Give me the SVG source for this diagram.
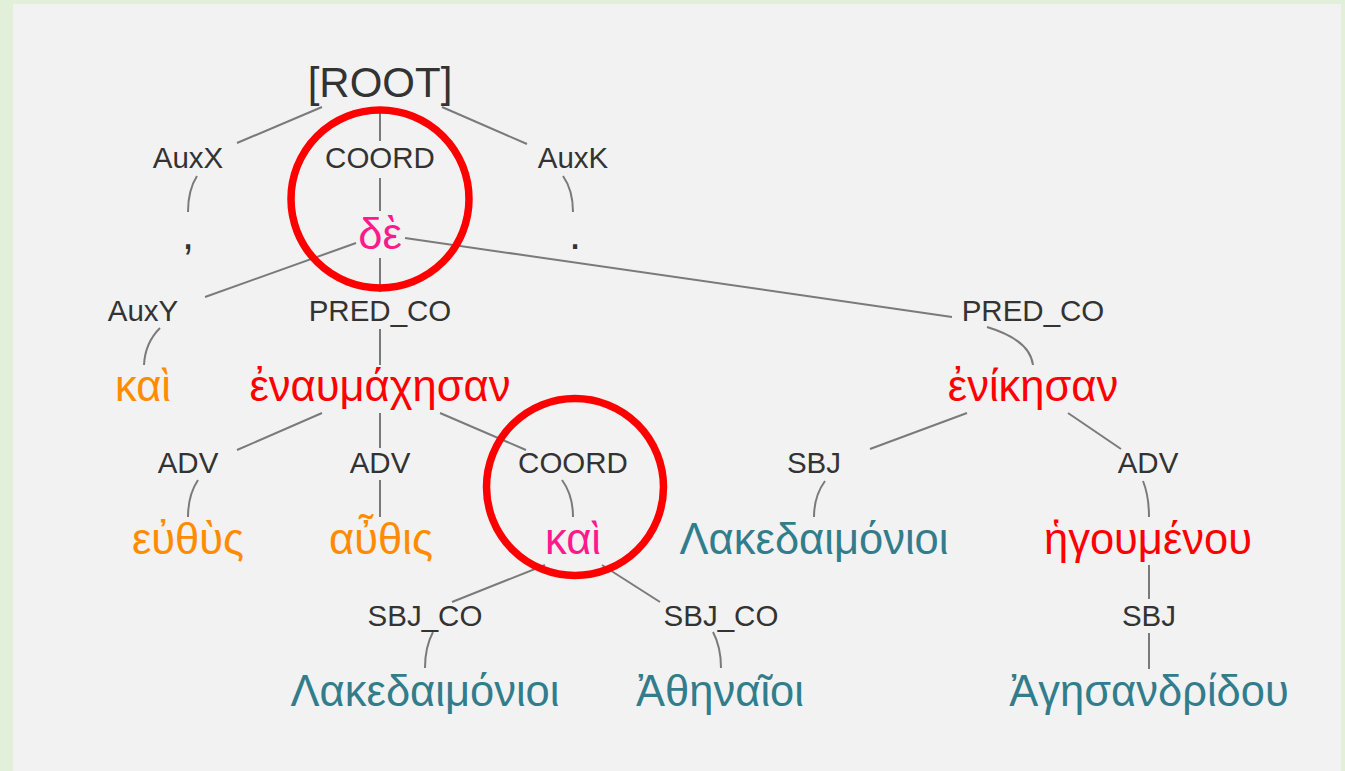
<svg xmlns="http://www.w3.org/2000/svg" width="1345" height="771" viewBox="0 0 1345 771">
<style>
.w{font-family:"Liberation Sans","DejaVu Sans",Arial,sans-serif;font-size:43.5px;text-anchor:middle}
.r{font-size:42px}
.l{font-family:"Liberation Sans","DejaVu Sans",Arial,sans-serif;font-size:29.5px;text-anchor:middle;fill:#333}
.dark{fill:#333}.red{fill:#ff0000}.pink{fill:#ff1a8c}.orange{fill:#ff8c00}.teal{fill:#327d8c}
.e path{fill:none;stroke:#7a7a7a;stroke-width:2}
.hl{fill:none;stroke:#ff0000;stroke-width:7.5}
</style>
<rect width="1345" height="771" fill="#e2efd9"/>
<rect x="13" y="4" width="1328" height="767" fill="#f2f2f2"/>
<g id="connectors" class="e">
<path d="M322,107 L237,143"/>
<path d="M197,176 Q188,190 188,212"/>
<path d="M380,113 L380,141"/>
<path d="M380,178 L380,211"/>
<path d="M442,107 L527,144"/>
<path d="M563,176 Q573,190 573,212"/>
<path d="M356,243 L205,297"/>
<path d="M160,328 Q145,343 144,365"/>
<path d="M380,258 L380,292"/>
<path d="M380,329 L380,365"/>
<path d="M405,238 L952,317"/>
<path d="M987,327 Q1030,340 1033,365"/>
<path d="M322,413 L237,450"/>
<path d="M198,480 Q188,495 188,517"/>
<path d="M380,413 L380,448"/>
<path d="M380,480 L380,517"/>
<path d="M440,413 L526,450"/>
<path d="M562,480 Q573,495 573,517"/>
<path d="M545,565 L452,602"/>
<path d="M433,632 Q425,647 425,668"/>
<path d="M602,565 L660,602"/>
<path d="M713,632 Q721,647 721,668"/>
<path d="M967,413 L870,449"/>
<path d="M825,481 Q814,496 814,517"/>
<path d="M1068,413 L1121,449"/>
<path d="M1143,481 Q1149,496 1149,517"/>
<path d="M1149,565 L1149,599"/>
<path d="M1149,633 L1149,669"/>
</g>
<g id="root"><text class="w r dark" x="380" y="97">[ROOT]</text></g>
<g id="comma"><text class="l" x="188" y="168">AuxX</text><text class="w dark" x="188" y="249">,</text></g>
<g id="de"><text class="l" x="380" y="168">COORD</text><text class="w pink" x="380" y="249">δὲ</text></g>
<g id="period"><text class="l" x="573" y="168">AuxK</text><text class="w dark" x="575" y="249">.</text></g>
<g id="kai1"><text class="l" x="143" y="321">AuxY</text><text class="w orange" x="143" y="401">καὶ</text></g>
<g id="enaumachesan"><text class="l" x="380" y="321">PRED_CO</text><text class="w red" x="380" y="401">ἐναυμάχησαν</text></g>
<g id="enikesan"><text class="l" x="1033" y="321">PRED_CO</text><text class="w red" x="1033" y="401">ἐνίκησαν</text></g>
<g id="euthus"><text class="l" x="188" y="473">ADV</text><text class="w orange" x="188" y="554">εὐθὺς</text></g>
<g id="authis"><text class="l" x="380" y="473">ADV</text><text class="w orange" x="381" y="554">αὖθις</text></g>
<g id="kai2"><text class="l" x="573" y="473">COORD</text><text class="w pink" x="573" y="554">καὶ</text></g>
<g id="lakedaimonioi1"><text class="l" x="814" y="473">SBJ</text><text class="w teal" x="814" y="554">Λακεδαιμόνιοι</text></g>
<g id="hegoumenou"><text class="l" x="1148" y="473">ADV</text><text class="w red" x="1148" y="554">ἡγουμένου</text></g>
<g id="lakedaimonioi2"><text class="l" x="425" y="626">SBJ_CO</text><text class="w teal" x="425" y="706">Λακεδαιμόνιοι</text></g>
<g id="athenaioi"><text class="l" x="721" y="626">SBJ_CO</text><text class="w teal" x="720" y="706">Ἀθηναῖοι</text></g>
<g id="agesandridou"><text class="l" x="1149" y="626">SBJ</text><text class="w teal" x="1149" y="706">Ἀγησανδρίδου</text></g>
<g id="highlights">
<circle class="hl" cx="380" cy="199" r="89"/>
<circle class="hl" cx="575" cy="487" r="88.5"/>
</g>
</svg>
